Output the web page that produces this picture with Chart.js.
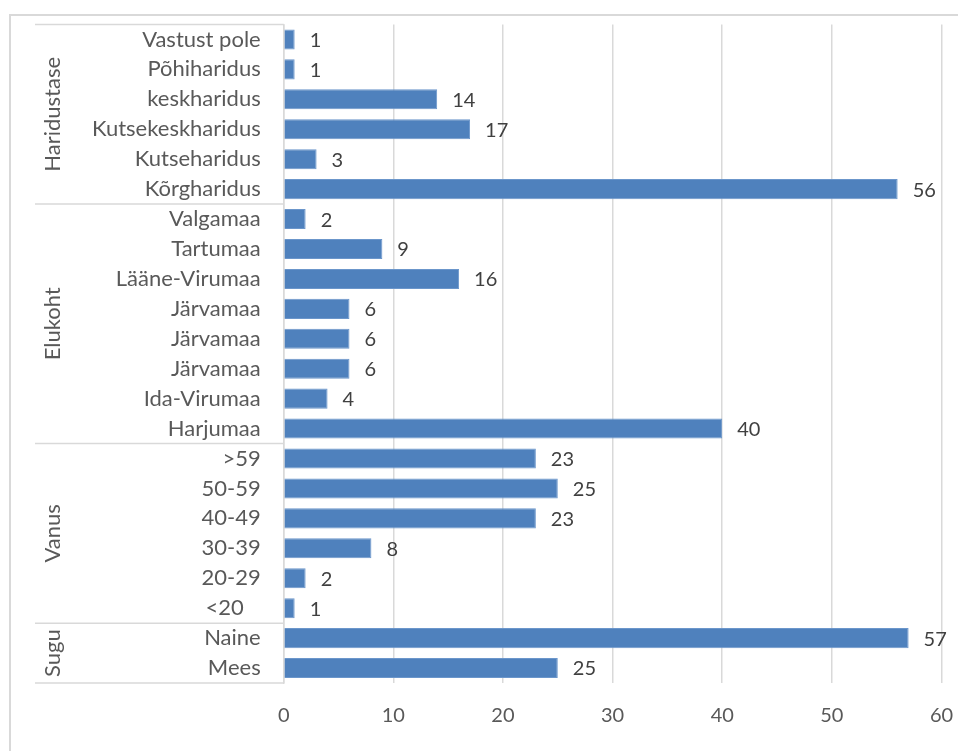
<!DOCTYPE html>
<html>
<head>
<meta charset="utf-8">
<script src="https://cdn.jsdelivr.net/npm/chart.js@4"></script>
<style>
  html, body { margin: 0; padding: 0; background: #fff; overflow: hidden; }
  #frame { position: absolute; left: 9px; top: 14px; width: 1000px; height: 800px; border: 2px solid #d9d9d9; box-sizing: border-box; }
  #wrap { position: absolute; left: 0; top: 0; width: 958px; height: 751px; }
</style>
</head>
<body>
<div id="frame"></div>
<div id="wrap"><canvas id="chart" width="958" height="751"></canvas></div>
<script>
// categories, top to bottom
const categories = [
    'Vastust pole', 'Põhiharidus', 'keskharidus', 'Kutsekeskharidus', 'Kutseharidus', 'Kõrgharidus',
    'Valgamaa', 'Tartumaa', 'Lääne-Virumaa', 'Järvamaa', 'Järvamaa', 'Järvamaa', 'Ida-Virumaa', 'Harjumaa',
    '>59', '50-59', '40-49', '30-39', '20-29', '<20   ',
    'Naine', 'Mees'
];
const values = [1, 1, 14, 17, 3, 56, 2, 9, 16, 6, 6, 6, 4, 40, 23, 25, 23, 8, 2, 1, 57, 25];
const groupNames = ['Haridustase', 'Elukoht', 'Vanus', 'Sugu'];
const groupSizes = [6, 8, 6, 2];
const xTicks = [0, 10, 20, 30, 40, 50, 60];

const FONT = 'Lato, "Noto Sans", sans-serif';
const LINE = '#d9d9d9';

// value labels to the right of each bar
const valueLabels = {
    id: 'valueLabels',
    afterDatasetsDraw(chart) {
        const ctx = chart.ctx;
        const meta = chart.getDatasetMeta(0);
        ctx.save();
        ctx.font = '20px ' + FONT;
        ctx.fillStyle = '#404040';
        ctx.textAlign = 'left';
        ctx.textBaseline = 'middle';
        meta.data.forEach((bar, i) => {
            ctx.fillText(String(values[i]), bar.x + 15, bar.y + 1);
        });
        ctx.restore();
    }
};

// multi-level category axis: group lines and rotated group names
const groupAxis = {
    id: 'groupAxis',
    afterDraw(chart) {
        const ctx = chart.ctx;
        const y = chart.scales.y;
        const area = chart.chartArea;
        const step = y.getPixelForValue(1) - y.getPixelForValue(0);
        const left = 35;
        ctx.save();
        ctx.strokeStyle = LINE;
        ctx.lineWidth = 1.5;
        let start = 0;
        const edges = [area.top];
        groupSizes.forEach(n => {
            start += n;
            edges.push(y.getPixelForValue(start - 1) + step / 2);
        });
        edges[edges.length - 1] = area.bottom;
        edges.forEach(e => {
            ctx.beginPath();
            ctx.moveTo(left, e);
            ctx.lineTo(area.left, e);
            ctx.stroke();
        });
        ctx.font = '22px ' + FONT;
        ctx.fillStyle = '#595959';
        ctx.textAlign = 'center';
        ctx.textBaseline = 'middle';
        groupNames.forEach((name, i) => {
            const mid = (edges[i] + edges[i + 1]) / 2;
            ctx.save();
            ctx.translate(53, mid);
            ctx.rotate(-Math.PI / 2);
            ctx.fillText(name, 0, 0);
            ctx.restore();
        });
        ctx.restore();
    }
};

function noPad(scale) {
    scale.paddingLeft = 0;
    scale.paddingRight = 0;
    scale.paddingTop = 0;
    scale.paddingBottom = 0;
}

const ctx = document.getElementById('chart').getContext('2d');
new Chart(ctx, {
    type: 'bar',
    data: {
        labels: categories,
        datasets: [{
            data: values,
            backgroundColor: '#4f81bd',
            borderColor: '#6b96cb',
            borderWidth: 1,
            categoryPercentage: 0.67,
            barPercentage: 1
        }]
    },
    options: {
        indexAxis: 'y',
        responsive: false,
        animation: false,
        layout: { padding: { top: 24.5, right: 16.5, left: 0, bottom: 0 } },
        plugins: { legend: { display: false }, tooltip: { enabled: false } },
        scales: {
            x: {
                min: 0,
                max: 60,
                afterBuildTicks(scale) { scale.ticks = xTicks.map(v => ({ value: v })); },
                afterFit(scale) { scale.height = 68; noPad(scale); },
                grid: { color: LINE, lineWidth: 1.5, drawTicks: false },
                border: { display: false },
                ticks: { color: '#595959', font: { family: FONT, size: 20 }, padding: 21 }
            },
            y: {
                afterFit(scale) { scale.width = 283.7; noPad(scale); },
                grid: { display: false, drawTicks: false },
                border: { color: LINE, width: 1.5 },
                ticks: { color: '#595959', font: { family: FONT, size: 22 }, padding: 23, autoSkip: false }
            }
        }
    },
    plugins: [valueLabels, groupAxis]
});
</script>
</body>
</html>
